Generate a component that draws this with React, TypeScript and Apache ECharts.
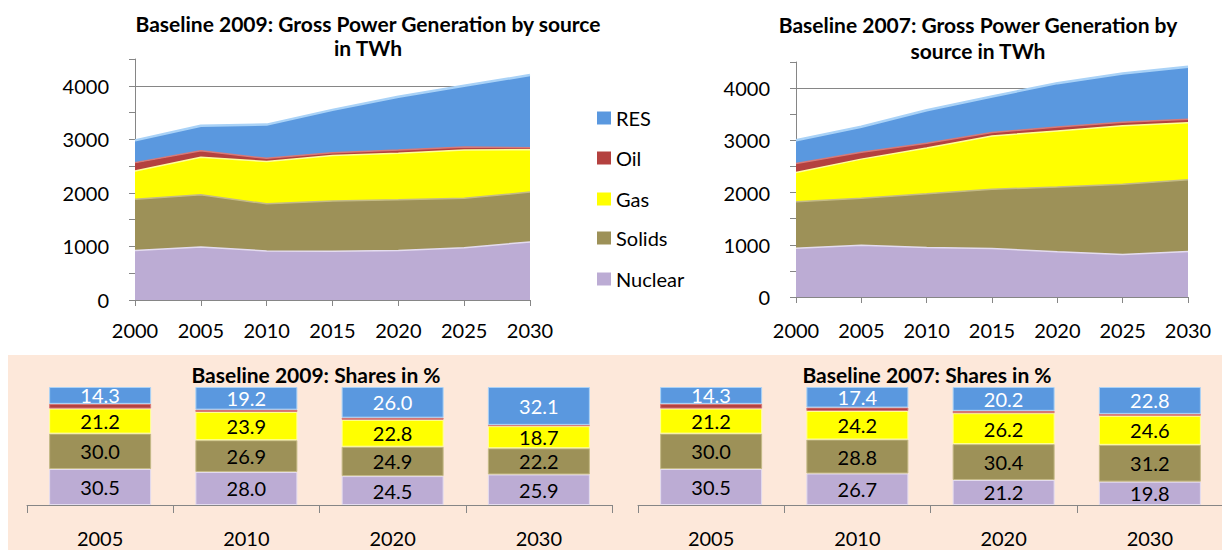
import React, { useEffect, useRef } from "react";
import * as echarts from "echarts";

const years = ["2000", "2005", "2010", "2015", "2020", "2025", "2030"];
const sources = ["Nuclear", "Solids", "Gas", "Oil", "RES"];
const legendOrder = ["RES", "Oil", "Gas", "Solids", "Nuclear"];

// Baseline 2009 gross power generation, TWh
const b09Nuclear = [925, 990, 915, 910, 925, 975, 1085];
const b09Solids = [955, 975, 880, 940, 945, 925, 930];
const b09Gas = [530, 700, 790, 850, 870, 900, 790];
const b09Oil = [155, 120, 60, 50, 60, 55, 40];
const b09RES = [415, 470, 630, 800, 995, 1145, 1355];

// Baseline 2007 gross power generation, TWh
const b07Nuclear = [935, 990, 950, 930, 865, 815, 870];
const b07Solids = [890, 900, 1025, 1135, 1240, 1345, 1375];
const b07Gas = [560, 750, 880, 1020, 1075, 1120, 1090];
const b07Oil = [170, 130, 90, 65, 75, 65, 70];
const b07RES = [445, 490, 630, 690, 840, 935, 1005];

// Shares in %
const shareYears = ["2005", "2010", "2020", "2030"];
const s09Nuclear = [30.5, 28.0, 24.5, 25.9];
const s09Solids = [30.0, 26.9, 24.9, 22.2];
const s09Gas = [21.2, 23.9, 22.8, 18.7];
const s09Oil = [4.0, 2.0, 1.8, 1.1];
const s09RES = [14.3, 19.2, 26.0, 32.1];

const s07Nuclear = [30.5, 26.7, 21.2, 19.8];
const s07Solids = [30.0, 28.8, 30.4, 31.2];
const s07Gas = [21.2, 24.2, 26.2, 24.6];
const s07Oil = [4.0, 2.9, 2.0, 1.6];
const s07RES = [14.3, 17.4, 20.2, 22.8];

const colors: Record<string, string> = {
  Nuclear: "#BCACD4",
  Solids: "#9D9158",
  Gas: "#FFFF00",
  Oil: "#B4413F",
  RES: "#5A98DF",
};
const edgeColors: Record<string, string> = {
  Nuclear: "#E4DCEF",
  Solids: "#C4BA86",
  Gas: "#FFFF9A",
  Oil: "#D87A78",
  RES: "#A9D2F7",
};
const labelColors: Record<string, string> = {
  Nuclear: "#000",
  Solids: "#000",
  Gas: "#000",
  Oil: "#000",
  RES: "#fff",
};

const FONT = "Lato";
const AXIS = "#868686";

export default function App() {
  const ref = useRef<HTMLDivElement>(null);
  useEffect(() => {
    if (!ref.current) return;
    const chart = echarts.init(ref.current, null, { renderer: "svg" });

    const topData: Record<string, number[]>[] = [
      { Nuclear: b09Nuclear, Solids: b09Solids, Gas: b09Gas, Oil: b09Oil, RES: b09RES },
      { Nuclear: b07Nuclear, Solids: b07Solids, Gas: b07Gas, Oil: b07Oil, RES: b07RES },
    ];
    const shareData: Record<string, number[]>[] = [
      { Nuclear: s09Nuclear, Solids: s09Solids, Gas: s09Gas, Oil: s09Oil, RES: s09RES },
      { Nuclear: s07Nuclear, Solids: s07Solids, Gas: s07Gas, Oil: s07Oil, RES: s07RES },
    ];

    const grids = [
      { left: 135, top: 59, width: 395, height: 241, outerBoundsMode: "none" },
      { left: 796, top: 62, width: 392, height: 235, outerBoundsMode: "none" },
      { left: 27, top: 387, width: 585, height: 118, outerBoundsMode: "none" },
      { left: 638, top: 387, width: 585, height: 118, outerBoundsMode: "none" },
    ];

    const xAxes: any[] = [];
    const yAxes: any[] = [];
    [0, 1].forEach((g) => {
      xAxes.push({
        type: "category",
        gridIndex: g,
        data: years,
        boundaryGap: false,
        axisLine: { show: true, lineStyle: { color: AXIS, width: 1 } },
        axisTick: { show: true, length: 6, lineStyle: { color: AXIS } },
        axisLabel: { color: "#000", fontFamily: FONT, fontSize: 20, margin: g === 0 ? 20 : 23 },
        splitLine: { show: false },
      });
      yAxes.push({
        type: "value",
        gridIndex: g,
        min: 0,
        max: 4500,
        interval: 500,
        axisLine: { show: true, lineStyle: { color: AXIS, width: 1 } },
        axisTick: { show: true, length: 6, lineStyle: { color: AXIS } },
        axisLabel: {
          color: "#000",
          fontFamily: FONT,
          fontSize: 20,
          margin: 26,
          formatter: (v: number) => (v % 1000 === 0 ? String(v) : ""),
        },
        splitLine: { show: true, lineStyle: { color: [AXIS, "rgba(0,0,0,0)"], width: 1 } },
      });
    });
    [2, 3].forEach((g) => {
      xAxes.push({
        type: "category",
        gridIndex: g,
        data: shareYears,
        boundaryGap: true,
        axisLine: { show: true, lineStyle: { color: AXIS, width: 1 } },
        axisTick: { show: true, length: 8, lineStyle: { color: AXIS } },
        axisLabel: { color: "#000", fontFamily: FONT, fontSize: 20, margin: 23 },
        splitLine: { show: false },
      });
      yAxes.push({
        type: "value",
        gridIndex: g,
        min: 0,
        max: 100,
        show: false,
        splitLine: { show: false },
      });
    });

    const series: any[] = [];
    [0, 1].forEach((g) => {
      sources.forEach((s) => {
        series.push({
          name: s,
          type: "line",
          xAxisIndex: g,
          yAxisIndex: g,
          stack: "top" + g,
          data: topData[g][s],
          showSymbol: false,
          symbol: "none",
          lineStyle: { color: edgeColors[s], width: s === "RES" ? 2.5 : 1.5 },
          itemStyle: { color: colors[s] },
          areaStyle: { color: colors[s], opacity: 1 },
          z: 2,
        });
      });
    });
    [0, 1].forEach((k) => {
      const g = k + 2;
      sources.forEach((s) => {
        series.push({
          name: s,
          type: "bar",
          xAxisIndex: g,
          yAxisIndex: g,
          stack: "share" + k,
          data: shareData[k][s],
          barWidth: 102,
          itemStyle: { color: colors[s], borderColor: edgeColors[s], borderWidth: 1 },
          label: {
            show: s !== "Oil",
            position: "inside",
            color: labelColors[s],
            fontFamily: FONT,
            fontSize: 20,
            lineHeight: 18,
            formatter: (p: any) => Number(p.value).toFixed(1),
          },
        });
      });
    });

    const legendCenters = [118, 158, 199, 238, 279];
    const legends = legendOrder.map((name, i) => ({
      data: [name],
      left: 597,
      top: legendCenters[i] - 10,
      padding: 0,
      itemWidth: 14,
      itemHeight: 13,
      icon: "rect",
      selectedMode: false,
      textStyle: { color: "#000", fontFamily: FONT, fontSize: 20 },
    }));

    const titleFont = "bold 21px " + FONT;
    const titleText = (x: number, y: number, text: string) => ({
      type: "text",
      x,
      y,
      z: 10,
      style: { text, font: titleFont, fill: "#000", align: "center", verticalAlign: "middle" },
    });

    chart.setOption({
      animation: false,
      backgroundColor: "#fff",
      grid: grids,
      xAxis: xAxes,
      yAxis: yAxes,
      legend: legends,
      series,
      graphic: [
        { type: "rect", z: -10, shape: { x: 8, y: 355, width: 1214, height: 195 }, style: { fill: "#FDE8DA" } },
        titleText(368, 23, "Baseline 2009: Gross Power Generation by source"),
        titleText(368, 47, "in TWh"),
        titleText(978, 24, "Baseline 2007: Gross Power Generation by"),
        titleText(978, 50, "source in TWh"),
        titleText(316, 374, "Baseline 2009: Shares in %"),
        titleText(927, 374, "Baseline 2007: Shares in %"),
      ],
    });
    return () => chart.dispose();
  }, []);
  return (
    <div
      ref={ref}
      style={{ position: "fixed", left: 0, top: 0, width: 1222, height: 550 }}
    />
  );
}
